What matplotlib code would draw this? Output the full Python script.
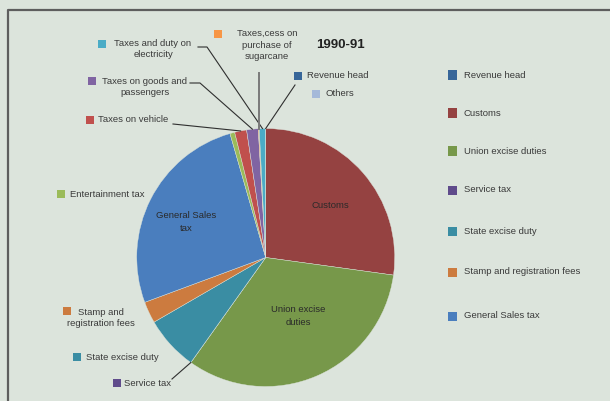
import numpy as np
import matplotlib
matplotlib.use("Agg")
import matplotlib.pyplot as plt
from matplotlib.lines import Line2D
from matplotlib.patches import Rectangle

plt.rcParams['font.family'] = ['Liberation Sans', 'DejaVu Sans']

# Share of revenue by head, 1990-91 (percent), in drawing order (clockwise from top)
heads = ["Revenue head", "Customs", "Union excise duties", "Service tax",
         "State excise duty", "Stamp and registration fees", "General Sales tax",
         "Entertainment tax", "Taxes on vehicle", "Taxes on goods and passengers",
         "Taxes,cess on purchase of sugarcane", "Taxes and duty on electricity",
         "Others"]
shares = [0.0, 27.2, 32.7, 0.0, 6.8, 2.7, 26.2, 0.6, 1.5, 1.45, 0.12, 0.8, 0.0]
colors = ["#376699", "#954241", "#77984A", "#5F4B8B", "#3A8DA3", "#CC7B3F",
          "#4A7EBE", "#9BBB59", "#C0504D", "#8064A2", "#F79646", "#4BACC6",
          "#A5B9D9"]
legend_heads = heads[:7]
title = "1990-91"

BG = "#DCE4DC"
TXT = "#3A3A3A"
W, H = 610, 401
fig = plt.figure(figsize=(W / 100, H / 100), dpi=100, facecolor=BG)


def fx(x):
    return x / W


def fy(y):
    return 1 - y / H


# frame of the chart area
fig.add_artist(Line2D([fx(7.5), fx(7.5), fx(W)], [fy(H), fy(10), fy(10)],
                      transform=fig.transFigure, color="#5E5E5E", lw=1.6))

# pie axes
cx, cy, R = 265.7, 257.5, 129
ax = fig.add_axes([fx(cx - R), fy(cy + R), 2 * R / W, 2 * R / H])
ax.set_facecolor(BG)
wedges, _ = ax.pie(shares, colors=colors, startangle=90, counterclock=False,
                   radius=1.0, wedgeprops=dict(edgecolor=BG, linewidth=0.3))
ax.set_xlim(-1, 1)
ax.set_ylim(-1, 1)
ax.set_aspect("equal")
ax.axis("off")


def edge_point(i):
    w = wedges[i]
    a = np.deg2rad((w.theta1 + w.theta2) / 2)
    return cx + R * np.cos(a), cy - R * np.sin(a)


def leader(points):
    xs = [fx(p[0]) for p in points]
    ys = [fy(p[1]) for p in points]
    fig.add_artist(Line2D(xs, ys, transform=fig.transFigure, color="#2F2F2F", lw=0.8))


def square(x, y, color, s=8):
    fig.add_artist(Rectangle((fx(x - s / 2), fy(y + s / 2)), s / W, s / H,
                             transform=fig.transFigure, facecolor=color,
                             edgecolor="none"))


FS = 6.8
idx = {h: i for i, h in enumerate(heads)}

# labels inside the large slices
fig.text(fx(330), fy(205), "Customs", fontsize=FS, color="#2A2A2A", ha="center", va="center")
fig.text(fx(298), fy(316), "Union excise\nduties", fontsize=FS, color="#2A2A2A",
         ha="center", va="center", linespacing=1.55)
fig.text(fx(186), fy(222), "General Sales\ntax", fontsize=FS, color="#2A2A2A",
         ha="center", va="center", linespacing=1.6)

# outside labels: (head, marker x, marker y, text x, text y, ha, text)
outside = [
    ("Taxes and duty on electricity", 102, 44, 153, 49, "center", "Taxes and duty on\nelectricity"),
    ("Taxes,cess on purchase of sugarcane", 218, 34, 267, 45, "center", "Taxes,cess on\npurchase of\nsugarcane"),
    ("Revenue head", 298, 76, 307, 76, "left", "Revenue head"),
    ("Others", 316, 94, 326, 94, "left", "Others"),
    ("Taxes on goods and passengers", 92, 81, 145, 87, "center", "Taxes on goods and\npassengers"),
    ("Taxes on vehicle", 90, 120, 98, 120, "left", "Taxes on vehicle"),
    ("Entertainment tax", 61, 194, 70, 194, "left", "Entertainment tax"),
    ("Stamp and registration fees", 67, 311, 101, 318, "center", "Stamp and\nregistration fees"),
    ("State excise duty", 77, 357, 86, 357, "left", "State excise duty"),
    ("Service tax", 117, 383, 124, 383, "left", "Service tax"),
]
for head, mx, my, tx, ty, ha, txt in outside:
    square(mx, my, colors[idx[head]])
    fig.text(fx(tx), fy(ty), txt, fontsize=FS, color=TXT, ha=ha, va="center",
             linespacing=1.4)

# leader lines from labels to their slices
leader([(198, 47), (207, 47), edge_point(idx["Taxes and duty on electricity"])])
ex, ey = edge_point(idx["Taxes,cess on purchase of sugarcane"])
fig.add_artist(Line2D([fx(ex), fx(ex)], [fy(73), fy(ey)], transform=fig.transFigure,
                      color="#7A7A7A", lw=1.4))
leader([(295, 85), edge_point(idx["Revenue head"])])
leader([(190, 83), (200, 83), edge_point(idx["Taxes on goods and passengers"])])
leader([(173, 124), edge_point(idx["Taxes on vehicle"])])
leader([(172, 379), edge_point(idx["Service tax"])])

# title
fig.text(fx(340), fy(45), title, fontsize=9.5, fontweight="bold", color="#222222",
         ha="center", va="center")

# legend on the right
leg_y = [75, 113, 151, 190, 231, 272, 316]
for head, y in zip(legend_heads, leg_y):
    square(452, y, colors[idx[head]], s=9)
    fig.text(fx(464), fy(y), head, fontsize=FS, color=TXT, ha="left", va="center")

fig.savefig("out.png", dpi=100, facecolor=BG)
